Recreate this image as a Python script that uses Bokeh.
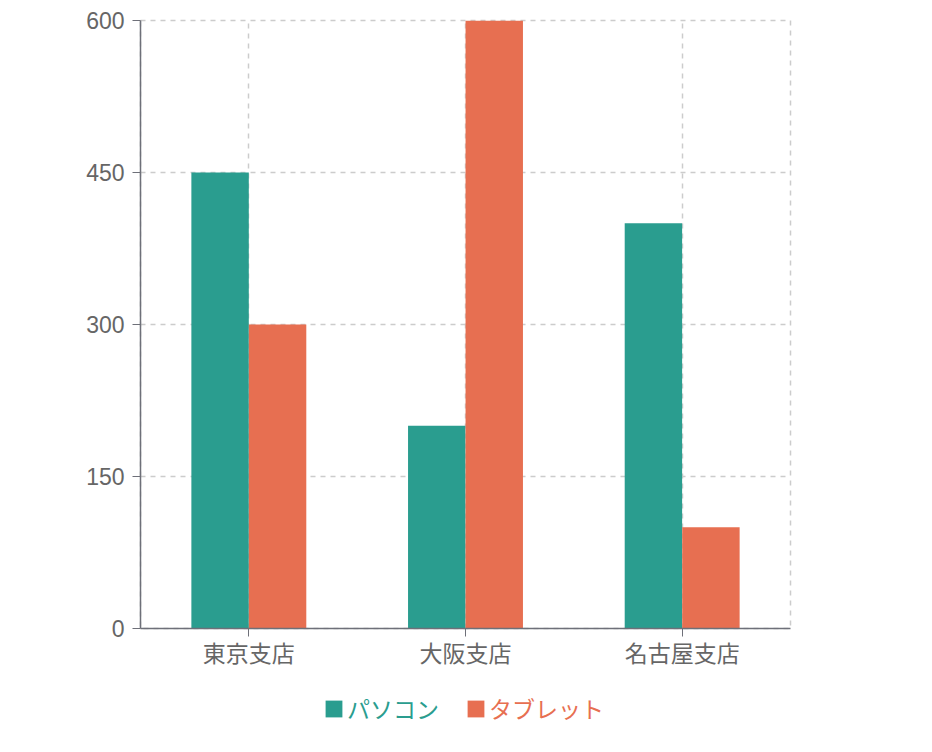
from bokeh.plotting import figure
from bokeh.layouts import column
from bokeh.models import Range1d, FixedTicker, Legend, LegendItem, ColumnDataSource
from bokeh.transform import dodge
from bokeh.embed import file_html
from bokeh.resources import INLINE

# データ
stores = ["東京支店", "大阪支店", "名古屋支店"]
pc = [450, 200, 400]
tablet = [300, 600, 100]
y_ticks = [0, 150, 300, 450, 600]

teal = "#2a9d8f"
orange = "#e76f51"
jp_font = "Noto Sans CJK JP"

src = ColumnDataSource(data=dict(store=stores, pc=pc, tablet=tablet))

p = figure(x_range=stores, y_range=Range1d(0, 600), width=900, height=680,
           output_backend="svg", toolbar_location=None,
           min_border_left=140, min_border_right=110,
           min_border_top=20, min_border_bottom=52)

p.vbar(x=dodge("store", -0.1327, range=p.x_range), top="pc", width=0.265,
       source=src, color=teal, line_color=None)
p.vbar(x=dodge("store", 0.1327, range=p.x_range), top="tablet", width=0.265,
       source=src, color=orange, line_color=None)

# 軸
p.yaxis.ticker = FixedTicker(ticks=y_ticks)
for ax in (p.xaxis[0], p.yaxis[0]):
    ax.axis_line_color = "#6e7079"
    ax.axis_line_width = 1.5
    ax.major_tick_line_color = "#6e7079"
    ax.major_tick_out = 8
    ax.major_tick_in = 0
    ax.minor_tick_out = 0
    ax.minor_tick_in = 0
    ax.major_label_text_color = "#666666"
p.yaxis.major_label_text_font = "Liberation Sans"
p.yaxis.major_label_text_font_size = "23px"
p.yaxis.major_label_standoff = 8
p.xaxis.major_label_text_font = jp_font
p.xaxis.major_label_text_font_size = "23px"
p.xaxis.major_label_standoff = -2

# グリッド
p.grid.grid_line_color = "#cccccc"
p.grid.grid_line_dash = "5 5"
p.grid.grid_line_width = 1.5
p.outline_line_color = "#cccccc"
p.outline_line_dash = "5 5"
p.outline_line_width = 1.5

# 凡例（別の図に配置、フレームは上の図に揃う）
lg_fig = figure(width=900, height=56, x_range=Range1d(0, 1), y_range=Range1d(0, 1),
                output_backend="svg", toolbar_location=None,
                x_axis_location=None, y_axis_location=None,
                min_border=0, min_border_left=0, min_border_right=0,
                min_border_top=0, min_border_bottom=0)
lg_fig.grid.visible = False
lg_fig.outline_line_color = None

def make_legend(label, color, x):
    # 高さゼロのダミー棒（凡例の色見本用）
    dummy = lg_fig.vbar(x=[0.5], top=[0], width=0.01, color=color, line_color=None)
    lg = Legend(items=[LegendItem(label=label, renderers=[dummy])], location=(x, 11),
                orientation="horizontal", glyph_width=21, glyph_height=21,
                label_standoff=3, padding=0, margin=0, spacing=0,
                border_line_color=None, background_fill_alpha=0,
                label_text_color=color, label_text_font=jp_font,
                label_text_font_size="23px", label_height=22)
    lg_fig.add_layout(lg, "center")

make_legend("パソコン", teal, 183)
make_legend("タブレット", orange, 325)

layout = column(p, lg_fig, spacing=0)
open("out.html", "w").write(file_html(layout, INLINE))
